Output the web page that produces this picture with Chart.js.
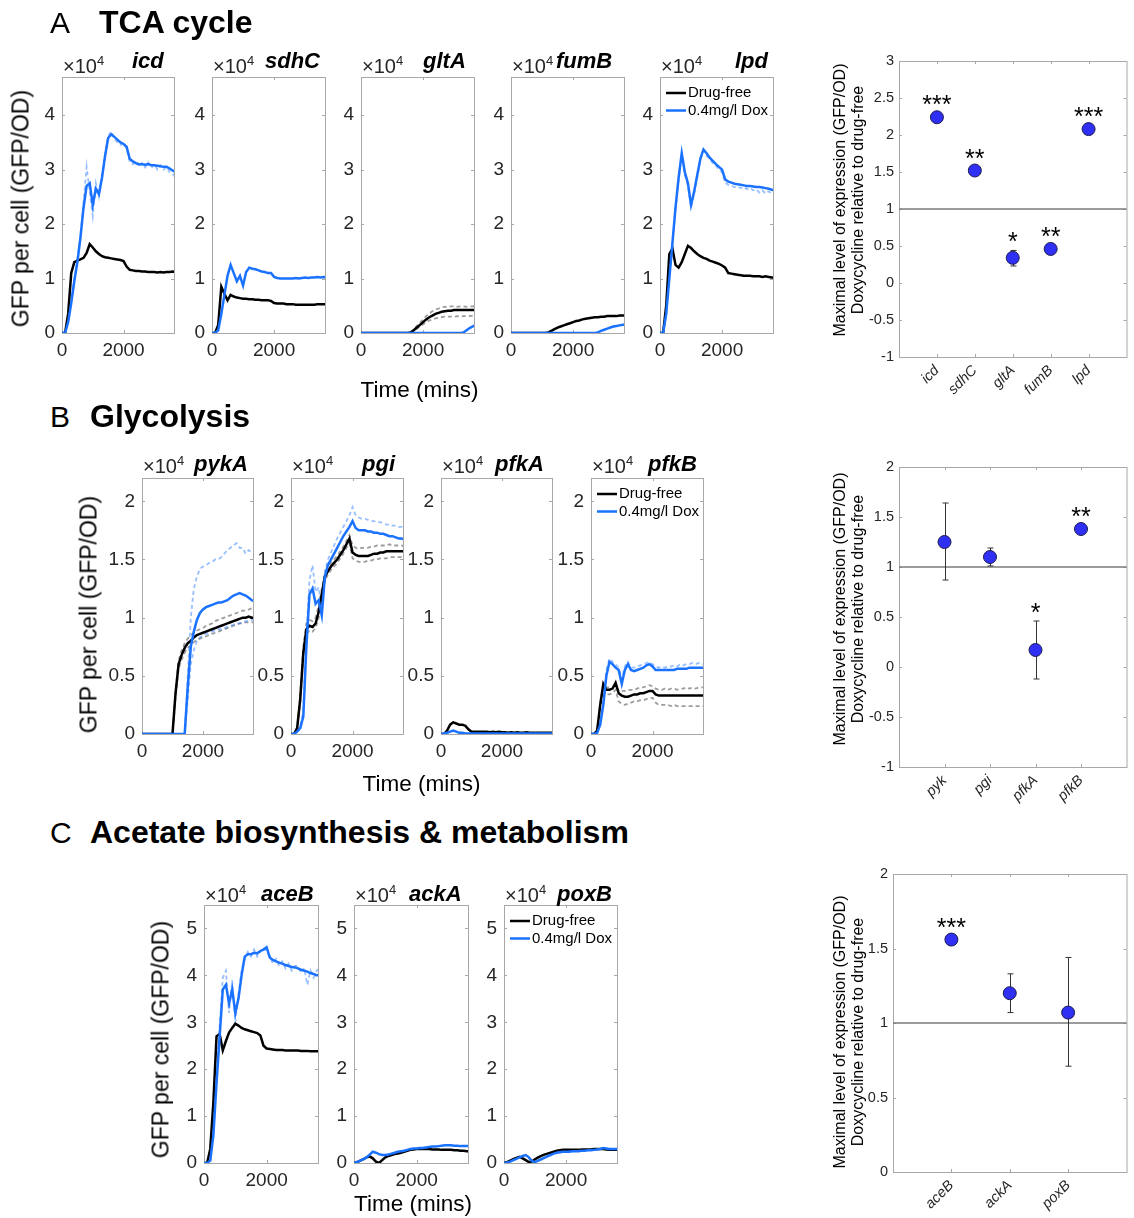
<!DOCTYPE html>
<html>
<head>
<meta charset="utf-8">
<script src="https://cdn.jsdelivr.net/npm/chart.js@4.4.1/dist/chart.umd.min.js"></script>
<style>
  body { margin: 0; background: #fff; }
  #fig { position: relative; width: 1134px; height: 1218px; overflow: hidden; background: #fff;
         font-family: 'Liberation Sans', Arial, Helvetica, sans-serif; color: #000; }
  #fig canvas { position: absolute; }
  .lbl { position: absolute; white-space: nowrap; line-height: 1; }
  .rot { position: absolute; white-space: nowrap; text-align: center; transform: rotate(-90deg); }
  .sup { font-size: 13px; position: relative; top: -8px; }
</style>
</head>
<body>
<div id="fig"></div>
<script>
// ---- data ----------------------------------------------------------------
// time axis (mins) shared by every time-course panel
const timeMins = [0,100,200,300,400,500,600,700,800,900,1000,1100,1200,1300,1400,1500,1600,1700,1800,1900,
                  2000,2100,2200,2300,2400,2500,2600,2700,2800,2900,3000,3100,3200,3300,3400,3500,3600,3700];
const timeTicks = [0, 2000];
const tcaTicks = [0, 1, 2, 3, 4];
const glyTicks = [0, 0.5, 1, 1.5, 2];
const aceTicks = [0, 1, 2, 3, 4, 5];
const conditionLabels = ['Drug-free', '0.4mg/l Dox'];

// GFP per cell, x10^4 (A: TCA cycle)
const icdDrugFree = [0,0,0.35,1.1,1.3,1.33,1.35,1.38,1.47,1.63, 1.57,1.5,1.45,1.41,1.39,1.38,1.37,1.36,1.35,1.34,
                     1.32,1.22,1.16,1.15,1.14,1.14,1.13,1.13,1.12,1.12, 1.12,1.11,1.12,1.11,1.12,1.12,1.13,1.12];
const icdDox = [0,0,0.2,0.55,0.95,1.3,1.75,2.3,2.7,2.75, 2.35,2.65,2.55,2.85,3.25,3.58,3.65,3.6,3.55,3.5,
                3.47,3.42,3.2,3.15,3.12,3.1,3.1,3.09,3.1,3.08, 3.08,3.07,3.06,3.05,3.05,3.02,2.98,2.96];
const icdDoxRep = [0,0,0.22,0.58,1.0,1.35,1.8,2.4,3.05,2.6, 2.15,2.75,2.5,2.9,3.3,3.62,3.7,3.58,3.5,3.45,
                   3.5,3.38,3.15,3.1,3.16,3.05,3.12,3.04,3.13,3.03, 3.1,3.0,3.08,3.0,3.05,2.95,2.92,2.85];
const sdhCDrugFree = [0,0,0.15,0.85,0.72,0.6,0.7,0.67,0.65,0.64, 0.63,0.63,0.62,0.62,0.61,0.61,0.6,0.6,0.6,0.59,
                      0.55,0.54,0.54,0.54,0.53,0.53,0.53,0.52,0.52,0.52, 0.52,0.52,0.52,0.52,0.53,0.53,0.53,0.53];
const sdhCDox = [0,0,0.05,0.35,0.7,1.05,1.25,1.1,0.95,1.05, 0.87,1.12,1.2,1.18,1.17,1.15,1.13,1.12,1.1,1.1,
                 1.03,1.01,1.0,1.0,1.0,1.0,1.0,1.01,1.0,1.01, 1.02,1.01,1.02,1.02,1.03,1.02,1.03,1.02];
const gltADrugFree = [0,0,0,0,0,0,0,0,0,0, 0,0,0,0,0,0,0.01,0.05,0.1,0.15,
                      0.2,0.25,0.29,0.32,0.35,0.37,0.39,0.4,0.41,0.41, 0.42,0.42,0.42,0.42,0.42,0.42,0.42,0.42];
const gltADrugFreeHi = [0,0,0,0,0,0,0,0,0,0, 0,0,0,0,0,0,0.02,0.07,0.13,0.19,
                        0.25,0.31,0.36,0.4,0.43,0.45,0.47,0.48,0.48,0.49, 0.49,0.48,0.49,0.49,0.48,0.49,0.49,0.49];
const gltADrugFreeLo = [0,0,0,0,0,0,0,0,0,0, 0,0,0,0,0,0,0.01,0.04,0.08,0.12,
                        0.16,0.2,0.23,0.25,0.27,0.28,0.29,0.3,0.3,0.3, 0.3,0.31,0.3,0.31,0.31,0.31,0.32,0.32];
const gltADox = [0,0,0,0,0,0,0,0,0,0, 0,0,0,0,0,0,0,0,0,0,
                 0,0,0,0,0,0,0,0,0,0, 0,0,0,0.01,0.05,0.09,0.12,0.15];
const fumBDrugFree = [0,0,0,0,0,0,0,0,0,0, 0,0,0.01,0.04,0.07,0.1,0.12,0.14,0.16,0.18,
                      0.2,0.22,0.23,0.25,0.26,0.27,0.28,0.29,0.29,0.3, 0.3,0.31,0.31,0.31,0.31,0.32,0.32,0.32];
const fumBDox = [0,0,0,0,0,0,0,0,0,0, 0,0,0,0,0,0,0,0,0,0,
                 0,0,0,0,0,0,0,0,0.01,0.04, 0.06,0.08,0.1,0.12,0.13,0.14,0.15,0.15];
const lpdDrugFree = [0,0,0.5,1.45,1.55,1.25,1.2,1.3,1.45,1.6, 1.56,1.5,1.45,1.41,1.38,1.36,1.33,1.31,1.29,1.27,
                     1.24,1.2,1.1,1.09,1.08,1.07,1.06,1.05,1.05,1.05, 1.04,1.04,1.04,1.03,1.04,1.03,1.02,1.02];
const lpdDox = [0,0,0.35,1.0,1.65,2.3,2.85,3.3,2.95,2.75, 2.35,2.6,2.9,3.2,3.37,3.3,3.22,3.16,3.1,3.05,
                3.0,2.82,2.78,2.76,2.74,2.73,2.72,2.71,2.7,2.7, 2.69,2.68,2.68,2.67,2.66,2.65,2.63,2.62];
const lpdDoxRep = [0,0,0.33,0.98,1.62,2.28,2.82,3.28,2.9,2.7, 2.3,2.55,2.85,3.17,3.35,3.25,3.2,3.12,3.07,3.0,
                   2.95,2.76,2.72,2.7,2.68,2.69,2.66,2.68,2.64,2.66, 2.62,2.64,2.58,2.62,2.56,2.6,2.56,2.55];

// B: glycolysis
const pykADrugFree = [0,0,0,0,0,0,0,0,0,0, 0,0.35,0.6,0.68,0.74,0.78,0.8,0.83,0.85,0.86,
                      0.87,0.88,0.89,0.9,0.91,0.92,0.93,0.94,0.95,0.96, 0.97,0.98,0.99,1.0,1.0,1.01,1.0,1.0];
const pykADrugFreeHi = [0,0,0,0,0,0,0,0,0,0, 0,0.37,0.63,0.72,0.78,0.82,0.85,0.87,0.89,0.9,
                        0.91,0.93,0.94,0.95,0.97,0.98,0.99,1.0,1.01,1.02, 1.03,1.04,1.05,1.06,1.06,1.07,1.08,1.08];
const pykADrugFreeLo = [0,0,0,0,0,0,0,0,0,0, 0,0.32,0.56,0.64,0.7,0.74,0.76,0.79,0.81,0.82,
                        0.83,0.84,0.85,0.86,0.87,0.88,0.89,0.9,0.91,0.92, 0.93,0.94,0.95,0.95,0.96,0.96,0.96,0.96];
const pykADox = [0,0,0,0,0,0,0,0,0,0, 0,0,0,0,0,0.4,0.75,0.88,0.98,1.04,
                 1.07,1.09,1.1,1.11,1.12,1.13,1.13,1.14,1.15,1.17, 1.19,1.2,1.21,1.2,1.19,1.17,1.15,1.14];
const pykADoxHi = [0,0,0,0,0,0,0,0,0,0, 0,0,0,0,0,0.5,1.0,1.25,1.35,1.42,
                   1.44,1.45,1.47,1.48,1.5,1.5,1.52,1.55,1.58,1.6, 1.62,1.64,1.6,1.6,1.55,1.58,1.56,1.55];
const pykADoxLo = [0,0,0,0,0,0,0,0,0,0, 0,0,0,0,0,0.3,0.6,0.72,0.8,0.83,
                   0.85,0.86,0.87,0.88,0.89,0.9,0.9,0.91,0.92,0.93, 0.94,0.95,0.95,0.96,0.97,0.97,0.98,0.98];
const pgiDrugFree = [0,0,0.05,0.3,0.7,0.9,0.93,0.92,0.95,1.05, 1.2,1.35,1.4,1.44,1.47,1.5,1.54,1.58,1.63,1.68,
                     1.56,1.54,1.53,1.53,1.53,1.53,1.54,1.55,1.55,1.56, 1.56,1.57,1.57,1.57,1.57,1.57,1.57,1.57];
const pgiDrugFreeHi = [0,0,0.06,0.33,0.75,0.95,0.98,0.97,1.0,1.1, 1.25,1.38,1.43,1.47,1.5,1.53,1.57,1.61,1.66,1.71,
                       1.62,1.6,1.59,1.6,1.6,1.6,1.61,1.61,1.62,1.62, 1.62,1.62,1.63,1.62,1.62,1.62,1.62,1.61];
const pgiDrugFreeLo = [0,0,0.04,0.27,0.66,0.86,0.89,0.88,0.91,1.0, 1.16,1.32,1.37,1.41,1.44,1.47,1.51,1.55,1.6,1.64,
                       1.51,1.49,1.48,1.48,1.48,1.49,1.49,1.5,1.5,1.51, 1.51,1.51,1.52,1.52,1.52,1.52,1.52,1.52];
const pgiDox = [0,0,0.02,0.05,0.15,0.75,1.2,1.25,1.12,1.15, 1.02,1.35,1.45,1.5,1.55,1.6,1.65,1.7,1.74,1.78,
                1.83,1.77,1.75,1.75,1.75,1.74,1.74,1.73,1.73,1.72, 1.72,1.71,1.7,1.7,1.69,1.68,1.68,1.67];
const pgiDoxHi = [0,0,0.03,0.07,0.2,0.85,1.32,1.45,1.22,1.26, 1.1,1.4,1.5,1.56,1.62,1.68,1.73,1.78,1.83,1.88,
                  1.95,1.88,1.86,1.85,1.85,1.84,1.83,1.83,1.82,1.82, 1.81,1.8,1.8,1.79,1.79,1.78,1.78,1.78];
const pfkADrugFree = [0,0,0.03,0.08,0.1,0.09,0.08,0.08,0.07,0.04, 0.02,0.02,0.02,0.02,0.02,0.02,0.015,0.02,0.015,0.02,
                      0.015,0.015,0.01,0.015,0.01,0.015,0.01,0.01,0.015,0.01, 0.01,0.01,0.01,0.01,0.01,0.01,0.01,0.01];
const pfkADox = [0,0.005,0.01,0.02,0.03,0.02,0.01,0.01,0.005,0.005, 0.005,0.005,0.005,0.005,0.005,0.005,0.005,0.005,0.005,0.005,
                 0.005,0.005,0.005,0.005,0.005,0.005,0.005,0.005,0.005,0.005, 0.005,0.005,0.005,0.005,0.005,0.005,0.005,0.005];
const pfkBDrugFree = [0,0,0.03,0.25,0.43,0.38,0.38,0.39,0.44,0.35, 0.33,0.32,0.32,0.33,0.34,0.34,0.35,0.35,0.36,0.37,
                      0.37,0.34,0.33,0.33,0.33,0.33,0.33,0.33,0.33,0.33, 0.33,0.33,0.33,0.33,0.33,0.33,0.33,0.33];
const pfkBDrugFreeHi = [0,0,0.03,0.27,0.42,0.4,0.4,0.4,0.42,0.37, 0.37,0.37,0.38,0.38,0.38,0.39,0.4,0.4,0.41,0.42,
                        0.41,0.39,0.38,0.38,0.39,0.38,0.39,0.39,0.38,0.39, 0.39,0.4,0.39,0.4,0.39,0.4,0.4,0.4];
const pfkBDrugFreeLo = [0,0,0.02,0.22,0.38,0.34,0.34,0.35,0.38,0.28, 0.26,0.25,0.26,0.27,0.28,0.28,0.29,0.29,0.3,0.31,
                        0.31,0.27,0.25,0.25,0.25,0.25,0.24,0.25,0.24,0.24, 0.24,0.24,0.24,0.24,0.24,0.24,0.24,0.24];
const pfkBDox = [0,0,0.01,0.08,0.25,0.5,0.62,0.6,0.57,0.55, 0.43,0.55,0.6,0.55,0.54,0.55,0.56,0.57,0.59,0.6,
                 0.58,0.55,0.55,0.55,0.55,0.55,0.55,0.55,0.56,0.56, 0.56,0.56,0.57,0.57,0.57,0.57,0.57,0.57];
const pfkBDoxRep = [0,0,0.01,0.1,0.28,0.55,0.65,0.62,0.6,0.57, 0.47,0.58,0.62,0.57,0.57,0.58,0.59,0.6,0.61,0.62,
                    0.6,0.58,0.57,0.58,0.57,0.58,0.58,0.59,0.58,0.6, 0.59,0.6,0.6,0.61,0.6,0.61,0.6,0.6];

// C: acetate biosynthesis & metabolism
const aceBDrugFree = [0,0,0.3,1.3,2.7,2.75,2.4,2.6,2.78,2.88, 2.97,2.93,2.88,2.85,2.83,2.81,2.79,2.77,2.72,2.5,
                      2.44,2.43,2.42,2.41,2.41,2.41,2.4,2.4,2.4,2.4, 2.4,2.39,2.39,2.39,2.38,2.38,2.38,2.38];
const aceBDox = [0,0,0.05,0.6,1.7,2.7,3.7,3.8,3.4,3.7, 3.2,3.5,4.0,4.4,4.45,4.45,4.48,4.47,4.52,4.55,
                 4.6,4.38,4.33,4.3,4.27,4.25,4.22,4.2,4.18,4.17, 4.15,4.12,4.1,4.08,4.05,4.03,4.0,4.02];
const aceBDoxRep = [0,0,0.06,0.65,1.8,2.9,3.95,4.1,3.2,3.9, 3.0,3.6,4.1,4.35,4.5,4.4,4.55,4.4,4.5,4.6,
                    4.5,4.42,4.25,4.35,4.2,4.3,4.15,4.25,4.1,4.2, 4.2,4.05,4.15,3.8,4.1,3.95,4.1,4.15];
const ackADrugFree = [0,0.02,0.05,0.08,0.12,0.14,0.1,0.03,0.0,0.06, 0.12,0.15,0.17,0.19,0.2,0.22,0.24,0.26,0.28,0.29,
                      0.3,0.3,0.3,0.3,0.3,0.29,0.29,0.29,0.28,0.28, 0.28,0.28,0.27,0.27,0.26,0.26,0.25,0.25];
const ackADox = [0,0.02,0.05,0.08,0.12,0.18,0.24,0.22,0.19,0.17, 0.17,0.18,0.2,0.22,0.24,0.25,0.26,0.28,0.3,0.31,
                 0.31,0.32,0.32,0.33,0.34,0.35,0.35,0.36,0.37,0.38, 0.38,0.38,0.37,0.37,0.36,0.36,0.36,0.36];
const poxBDrugFree = [0,0.02,0.05,0.08,0.11,0.13,0.1,0.06,0.02,0.03, 0.08,0.12,0.15,0.18,0.2,0.22,0.24,0.26,0.27,0.28,
                      0.28,0.28,0.28,0.28,0.28,0.29,0.29,0.29,0.29,0.3, 0.3,0.3,0.3,0.29,0.28,0.28,0.28,0.28];
const poxBDox = [0,0.01,0.03,0.06,0.09,0.12,0.15,0.17,0.12,0.04, 0.02,0.05,0.08,0.11,0.14,0.17,0.2,0.22,0.23,0.24,
                 0.24,0.24,0.25,0.25,0.25,0.26,0.26,0.27,0.27,0.28, 0.29,0.3,0.32,0.31,0.3,0.3,0.3,0.3];

// maximal expression, doxycycline relative to drug-free
const tcaGenes = ['icd', 'sdhC', 'gltA', 'fumB', 'lpd'];
const tcaRatio = [2.24, 1.52, 0.34, 0.46, 2.08];
const tcaErrLow = [2.22, 1.51, 0.23, 0.44, 2.06];
const tcaErrHigh = [2.26, 1.53, 0.44, 0.48, 2.10];
const tcaStars = ['***', '**', '*', '**', '***'];
const tcaRatioTicks = [-1, -0.5, 0, 0.5, 1, 1.5, 2, 2.5, 3];

const glyGenes = ['pyk', 'pgi', 'pfkA', 'pfkB'];
const glyRatio = [1.25, 1.10, 0.17, 1.38];
const glyErrLow = [0.87, 1.01, -0.12, 1.36];
const glyErrHigh = [1.64, 1.19, 0.46, 1.40];
const glyStars = ['', '', '*', '**'];
const glyRatioTicks = [-1, -0.5, 0, 0.5, 1, 1.5, 2];

const aceGenes = ['aceB', 'ackA', 'poxB'];
const aceRatio = [1.56, 1.20, 1.07];
const aceErrLow = [1.54, 1.07, 0.71];
const aceErrHigh = [1.58, 1.33, 1.44];
const aceStars = ['***', '', ''];
const aceRatioTicks = [0, 0.5, 1, 1.5, 2];

// ---- styling ---------------------------------------------------------------
const FONT = "'Liberation Sans', Arial, Helvetica, sans-serif";
const TICK_COLOR = '#262626';
const BOX_COLOR = '#a8a8a8';
const BLUE = '#1a72ff';
const fig = document.getElementById('fig');

function addText(x, baseline, html, size, extra) {
  const d = document.createElement('div');
  d.className = 'lbl';
  d.innerHTML = html;
  d.style.fontSize = size + 'px';
  d.style.left = x + 'px';
  d.style.top = (baseline - 0.8465 * size) + 'px';
  if (extra) Object.assign(d.style, extra);
  fig.appendChild(d);
}

function addRotated(cx, cy, lines, size, lineH) {
  const d = document.createElement('div');
  d.className = 'rot';
  d.innerHTML = lines.join('<br>');
  d.style.fontSize = size + 'px';
  d.style.lineHeight = lineH + 'px';
  const h = lines.length * lineH;
  d.style.width = '400px';
  d.style.height = h + 'px';
  d.style.left = (cx - 200) + 'px';
  d.style.top = (cy - h / 2) + 'px';
  fig.appendChild(d);
}

function addCanvas(left, top, w, h) {
  const c = document.createElement('canvas');
  c.width = w; c.height = h;
  c.style.left = left + 'px'; c.style.top = top + 'px';
  c.style.width = w + 'px'; c.style.height = h + 'px';
  fig.appendChild(c);
  return c;
}

// matlab-like box, inward ticks, reference line, error bars, stars, legend
const matlabBox = {
  id: 'matlabBox',
  beforeDatasetsDraw(chart, args, opts) {
    const {ctx, chartArea: a, scales: {x, y}} = chart;
    ctx.save();
    ctx.strokeStyle = BOX_COLOR;
    ctx.lineWidth = 1;
    ctx.strokeRect(a.left + 0.5, a.top + 0.5, a.right - a.left, a.bottom - a.top);
    ctx.beginPath();
    x.ticks.forEach(t => {
      const px = Math.round(x.getPixelForValue(t.value)) + 0.5;
      ctx.moveTo(px, a.bottom); ctx.lineTo(px, a.bottom - 3);
      ctx.moveTo(px, a.top); ctx.lineTo(px, a.top + 3);
    });
    y.ticks.forEach(t => {
      const py = Math.round(y.getPixelForValue(t.value)) + 0.5;
      ctx.moveTo(a.left, py); ctx.lineTo(a.left + 3, py);
      ctx.moveTo(a.right, py); ctx.lineTo(a.right - 3, py);
    });
    ctx.stroke();
    if (opts.refLine !== undefined) {
      const py = y.getPixelForValue(opts.refLine);
      ctx.strokeStyle = '#7a7a7a';
      ctx.lineWidth = 1.3;
      ctx.beginPath(); ctx.moveTo(a.left, py); ctx.lineTo(a.right, py); ctx.stroke();
    }
    const ds = chart.data.datasets[0];
    if (ds.errLow) {
      ctx.strokeStyle = '#333';
      ctx.lineWidth = 1;
      ctx.beginPath();
      ds.errLow.forEach((lo, i) => {
        const px = Math.round(x.getPixelForValue(i + 1)) + 0.5;
        const y1 = y.getPixelForValue(lo), y2 = y.getPixelForValue(ds.errHigh[i]);
        ctx.moveTo(px, y1); ctx.lineTo(px, y2);
        ctx.moveTo(px - 3, y1); ctx.lineTo(px + 3, y1);
        ctx.moveTo(px - 3, y2); ctx.lineTo(px + 3, y2);
      });
      ctx.stroke();
    }
    ctx.restore();
  },
  afterDatasetsDraw(chart, args, opts) {
    const {ctx, chartArea: a, scales: {x, y}} = chart;
    ctx.save();
    const ds = chart.data.datasets[0];
    if (ds.stars) {
      ctx.font = `25px ${FONT}`;
      ctx.fillStyle = '#000';
      ctx.textAlign = 'center';
      ctx.textBaseline = 'alphabetic';
      ds.stars.forEach((s, i) => {
        if (!s) return;
        const cy = Math.min(y.getPixelForValue(ds.data[i].y) - 13, y.getPixelForValue(ds.errHigh[i]) - 9);
        ctx.fillText(s, x.getPixelForValue(i + 1), cy + 9);
      });
    }
    if (opts.legend) {
      ctx.font = `15px ${FONT}`;
      ctx.textBaseline = 'middle';
      ctx.textAlign = 'left';
      ctx.fillStyle = '#000';
      [[chart.data.datasets[1], 16], [chart.data.datasets[0], 33.5]].forEach(([d, dy]) => {
        ctx.strokeStyle = d.borderColor;
        ctx.lineWidth = 2.5;
        ctx.beginPath(); ctx.moveTo(a.left + 6, a.top + dy); ctx.lineTo(a.left + 26, a.top + dy); ctx.stroke();
        ctx.fillText(d.label, a.left + 28, a.top + dy);
      });
    }
    ctx.restore();
  }
};

const lineStyles = {
  drugFree: {borderColor: '#000000', borderWidth: 2.5},
  dox: {borderColor: BLUE, borderWidth: 2.5},
  drugFreeRep: {borderColor: 'rgba(60,60,60,0.5)', borderWidth: 1.8, borderDash: [4, 3]},
  doxRep: {borderColor: 'rgba(26,114,255,0.45)', borderWidth: 1.8, borderDash: [4, 3]}
};

function lineDataset(values, kind, label) {
  return Object.assign({
    label: label,
    data: timeMins.map((t, i) => ({x: t, y: values[i]})),
    pointRadius: 0, tension: 0, fill: false
  }, lineStyles[kind]);
}

function makeTimePanel(p, row) {
  const YW = 50, XH = 40, PT = 20, PR = 4;
  const canvas = addCanvas(p.left - YW, row.top - PT, p.right - p.left + YW + PR, row.bottom - row.top + PT + XH);
  const datasets = [lineDataset(p.dox, 'dox', conditionLabels[1]), lineDataset(p.drugFree, 'drugFree', conditionLabels[0])];
  (p.reps || []).forEach(([vals, kind]) => datasets.push(lineDataset(vals, kind)));
  const tickFont = {family: FONT, size: 19};
  new Chart(canvas, {
    type: 'line',
    data: {datasets},
    options: {
      responsive: false, animation: false, events: [],
      layout: {padding: {left: 0, top: PT, right: PR, bottom: 0}},
      plugins: {legend: {display: false}, tooltip: {enabled: false}, matlabBox: {legend: !!p.legend}},
      scales: {
        x: {
          type: 'linear', min: 0, max: row.xMax,
          afterBuildTicks: s => { s.ticks = timeTicks.map(v => ({value: v})); },
          afterFit: s => { s.height = XH; },
          grid: {display: false, drawTicks: false}, border: {display: false},
          ticks: {font: tickFont, color: TICK_COLOR, padding: 6, maxRotation: 0, autoSkip: false, callback: v => String(v)}
        },
        y: {
          type: 'linear', min: 0, max: row.yMax,
          afterBuildTicks: s => { s.ticks = row.yTicks.map(v => ({value: v})); },
          afterFit: s => { s.width = YW; },
          grid: {display: false, drawTicks: false}, border: {display: false},
          ticks: {font: tickFont, color: TICK_COLOR, padding: 7, callback: v => String(v)}
        }
      }
    },
    plugins: [matlabBox]
  });
  addText(p.left + 1, row.expBase, '&times;10<span class="sup">4</span>', 20, {color: TICK_COLOR});
  addText(p.titleX, row.titleBase, p.gene, 22, {fontWeight: 'bold', fontStyle: 'italic'});
}

function makeRatioPanel(p) {
  const YW = 40, XH = 60, PT = 16, PR = 1;
  const [L, T, R, B] = p.box;
  const canvas = addCanvas(L - YW, T - PT, R - L + YW + PR, B - T + PT + XH);
  new Chart(canvas, {
    type: 'scatter',
    data: {datasets: [{
      data: p.ratio.map((v, i) => ({x: i + 1, y: v})),
      errLow: p.errLow, errHigh: p.errHigh, stars: p.stars,
      pointRadius: 6.5, pointBackgroundColor: '#3030f5', pointBorderColor: '#1c1c50', pointBorderWidth: 1
    }]},
    options: {
      responsive: false, animation: false, events: [],
      layout: {padding: {left: 0, top: PT, right: PR, bottom: 0}},
      plugins: {legend: {display: false}, tooltip: {enabled: false}, matlabBox: {refLine: 1}},
      scales: {
        x: {
          type: 'linear', min: 0, max: p.genes.length + 1,
          afterBuildTicks: s => { s.ticks = p.genes.map((g, i) => ({value: i + 1})); },
          afterFit: s => { s.height = XH; },
          grid: {display: false, drawTicks: false}, border: {display: false},
          ticks: {font: {family: FONT, size: 14.5, style: 'italic'}, color: TICK_COLOR, padding: 5,
                  minRotation: 45, maxRotation: 45, autoSkip: false, callback: v => p.genes[v - 1]}
        },
        y: {
          type: 'linear', min: p.yTicks[0], max: p.yTicks[p.yTicks.length - 1],
          afterBuildTicks: s => { s.ticks = p.yTicks.map(v => ({value: v})); },
          afterFit: s => { s.width = YW; },
          grid: {display: false, drawTicks: false}, border: {display: false},
          ticks: {font: {family: FONT, size: 14.5}, color: TICK_COLOR, padding: 5, callback: v => String(v)}
        }
      }
    },
    plugins: [matlabBox]
  });
  addRotated(849, (T + B) / 2 + p.labelShift, ['Maximal level of expression (GFP/OD)', 'Doxycycline relative to drug-free'], 16, 18);
}

// ---- layout ----------------------------------------------------------------
const tcaRow = {top: 77, bottom: 333, yMax: 4.7, xMax: 3640, yTicks: tcaTicks, titleBase: 69, expBase: 73};
const glyRow = {top: 478, bottom: 734, yMax: 2.2, xMax: 3640, yTicks: glyTicks, titleBase: 471.5, expBase: 472.5};
const aceRow = {top: 905, bottom: 1163, yMax: 5.5, xMax: 3640, yTicks: aceTicks, titleBase: 902, expBase: 902};

[
  {gene: 'icd', left: 62, right: 174, titleX: 132, drugFree: icdDrugFree, dox: icdDox, reps: [[icdDoxRep, 'doxRep']]},
  {gene: 'sdhC', left: 212, right: 325, titleX: 265, drugFree: sdhCDrugFree, dox: sdhCDox},
  {gene: 'gltA', left: 361, right: 474, titleX: 423, drugFree: gltADrugFree, dox: gltADox,
   reps: [[gltADrugFreeHi, 'drugFreeRep'], [gltADrugFreeLo, 'drugFreeRep']]},
  {gene: 'fumB', left: 511, right: 624, titleX: 556, drugFree: fumBDrugFree, dox: fumBDox},
  {gene: 'lpd', left: 660, right: 773, titleX: 735, drugFree: lpdDrugFree, dox: lpdDox, reps: [[lpdDoxRep, 'doxRep']], legend: true}
].forEach(p => makeTimePanel(p, tcaRow));

[
  {gene: 'pykA', left: 142, right: 253, titleX: 194, drugFree: pykADrugFree, dox: pykADox,
   reps: [[pykADoxHi, 'doxRep'], [pykADoxLo, 'doxRep'], [pykADrugFreeHi, 'drugFreeRep'], [pykADrugFreeLo, 'drugFreeRep']]},
  {gene: 'pgi', left: 291, right: 403, titleX: 362, drugFree: pgiDrugFree, dox: pgiDox,
   reps: [[pgiDoxHi, 'doxRep'], [pgiDrugFreeHi, 'drugFreeRep'], [pgiDrugFreeLo, 'drugFreeRep']]},
  {gene: 'pfkA', left: 441, right: 552, titleX: 495, drugFree: pfkADrugFree, dox: pfkADox},
  {gene: 'pfkB', left: 591, right: 703, titleX: 648, drugFree: pfkBDrugFree, dox: pfkBDox,
   reps: [[pfkBDoxRep, 'doxRep'], [pfkBDrugFreeHi, 'drugFreeRep'], [pfkBDrugFreeLo, 'drugFreeRep']], legend: true}
].forEach(p => makeTimePanel(p, glyRow));

[
  {gene: 'aceB', left: 204, right: 318, titleX: 261, drugFree: aceBDrugFree, dox: aceBDox, reps: [[aceBDoxRep, 'doxRep']]},
  {gene: 'ackA', left: 354, right: 468, titleX: 409, drugFree: ackADrugFree, dox: ackADox},
  {gene: 'poxB', left: 504, right: 617, titleX: 557, drugFree: poxBDrugFree, dox: poxBDox, legend: true}
].forEach(p => makeTimePanel(p, aceRow));

makeRatioPanel({box: [899, 61, 1133, 357], genes: tcaGenes, ratio: tcaRatio, errLow: tcaErrLow, errHigh: tcaErrHigh,
                stars: tcaStars, yTicks: tcaRatioTicks, labelShift: -9});
makeRatioPanel({box: [899, 467, 1133, 767], genes: glyGenes, ratio: glyRatio, errLow: glyErrLow, errHigh: glyErrHigh,
                stars: glyStars, yTicks: glyRatioTicks, labelShift: -8});
makeRatioPanel({box: [893, 874, 1133, 1172], genes: aceGenes, ratio: aceRatio, errLow: aceErrLow, errHigh: aceErrHigh,
                stars: aceStars, yTicks: aceRatioTicks, labelShift: 9});

// section headings and shared axis titles
addText(50, 33, 'A', 30);
addText(99, 33, 'TCA cycle', 32, {fontWeight: 'bold'});
addText(50, 427, 'B', 30);
addText(90, 427, 'Glycolysis', 32, {fontWeight: 'bold'});
addText(50, 843, 'C', 30);
addText(90, 843, 'Acetate biosynthesis &amp; metabolism', 32, {fontWeight: 'bold'});

addRotated(21, 208, ['GFP per cell (GFP/OD)'], 23, 23);
addRotated(89, 614, ['GFP per cell (GFP/OD)'], 23, 23);
addRotated(161, 1039, ['GFP per cell (GFP/OD)'], 23, 23);

addText(419.5, 398, 'Time (mins)', 22.5, {transform: 'translateX(-50%)'});
addText(421.5, 792, 'Time (mins)', 22.5, {transform: 'translateX(-50%)'});
addText(413, 1212, 'Time (mins)', 22.5, {transform: 'translateX(-50%)'});
</script>
</body>
</html>
